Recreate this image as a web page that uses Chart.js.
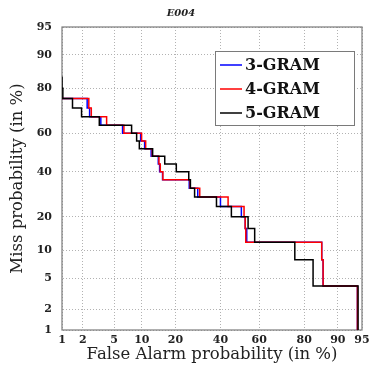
<!DOCTYPE html>
<html>
<head>
<meta charset="utf-8">
<script src="https://cdn.jsdelivr.net/npm/chart.js@4.4.0/dist/chart.umd.min.js"></script>
<style>
  html, body { margin: 0; padding: 0; background: #fff; }
</style>
</head>
<body>
<canvas id="det" width="372" height="367"></canvas>
<script>
// DET plot, both axes on a normal-deviate scale (values in %)
const TITLE = 'E004';
const TICKS_PCT = [1, 2, 5, 10, 20, 40, 60, 80, 90, 95];
const FA_RANGE = [1, 94.5];   // x limits as drawn
const MISS_RANGE = [1, 95];

const SERIES = ['3-GRAM', '4-GRAM', '5-GRAM'];
const LINE_COLORS = ['#0000ff', '#ff0000', '#000000'];

// step vertices: false alarm % where the miss rate drops to the given miss %
const fa3 = [1.0, 2.29, 2.47, 3.45, 6.25, 9.72, 10.65, 12.3, 14.3, 14.7, 15.6, 25.4, 29.1, 40.0, 50.8, 52.8, 53.6, 85.8, 86.2, 93.8];
const miss3 = [76, 72, 68, 64, 60, 56, 52, 48, 44, 40, 36, 32, 28, 24, 20, 16, 12, 8, 4, 0];
const fa4 = [1.0, 2.41, 2.60, 4.07, 6.47, 9.94, 10.9, 12.6, 14.5, 14.9, 15.7, 25.8, 30.0, 43.9, 52.2, 52.8, 53.1, 85.8, 86.2, 93.8];
const miss4 = [76, 72, 68, 64, 60, 56, 52, 48, 44, 40, 36, 32, 28, 24, 20, 16, 12, 8, 4, 0];
const fa5 = [1.0, 1.0, 1.03, 1.43, 1.92, 3.30, 7.84, 8.85, 9.43, 12.7, 16.3, 20.3, 25.2, 25.9, 27.7, 38.0, 45.6, 54.3, 57.7, 76.4, 83.1, 93.9];
const miss5 = [84, 80, 76, 72, 68, 64, 60, 56, 52, 48, 44, 40, 36, 32, 28, 24, 20, 16, 12, 8, 4, 0];

// inverse normal CDF (Acklam)
function probit(p) {
  p = Math.min(Math.max(p, 1e-5), 1 - 1e-5);
  const a = [-39.69683028665376, 220.9460984245205, -275.9285104469687, 138.3577518672690, -30.66479806614716, 2.506628277459239];
  const b = [-54.47609879822406, 161.5858368580409, -155.6989798598866, 66.80131188771972, -13.28068155288572];
  const c = [-0.007784894002430293, -0.3223964580411365, -2.400758277161838, -2.549732539343734, 4.374664141464968, 2.938163982698783];
  const d = [0.007784695709041462, 0.3224671290700398, 2.445134137142996, 3.754408661907416];
  const pl = 0.02425;
  let q, r;
  if (p < pl) {
    q = Math.sqrt(-2 * Math.log(p));
    return (((((c[0]*q+c[1])*q+c[2])*q+c[3])*q+c[4])*q+c[5]) / ((((d[0]*q+d[1])*q+d[2])*q+d[3])*q+1);
  }
  if (p > 1 - pl) {
    q = Math.sqrt(-2 * Math.log(1 - p));
    return -(((((c[0]*q+c[1])*q+c[2])*q+c[3])*q+c[4])*q+c[5]) / ((((d[0]*q+d[1])*q+d[2])*q+d[3])*q+1);
  }
  q = p - 0.5; r = q * q;
  return (((((a[0]*r+a[1])*r+a[2])*r+a[3])*r+a[4])*r+a[5])*q / (((((b[0]*r+b[1])*r+b[2])*r+b[3])*r+b[4])*r+1);
}

const toPoints = (fa, miss) => fa.map((f, i) => ({ x: probit(f / 100), y: probit(miss[i] / 100) }));
const curves = [toPoints(fa3, miss3), toPoints(fa4, miss4), toPoints(fa5, miss5)];

const TICK_FONT = { family: 'DejaVu Serif', size: 11, weight: 'bold' };
const AXIS_FONT = { family: 'DejaVu Serif', size: 16.5 };

const detFrame = {
  id: 'detFrame',
  beforeDatasetsDraw(chart) {
    const { ctx, chartArea: a } = chart;
    ctx.save();
    ctx.strokeStyle = '#7a7a7a';
    ctx.lineWidth = 1.2;
    ctx.strokeRect(a.left, a.top, a.right - a.left, a.bottom - a.top);
    ctx.restore();
  },
  afterDatasetsDraw(chart) {
    const { ctx, chartArea: a } = chart;
    const x0 = a.right - 147, y0 = a.top + 24, w = 139, h = 74;
    ctx.save();
    ctx.fillStyle = '#fff';
    ctx.fillRect(x0, y0, w, h);
    ctx.strokeStyle = '#7a7a7a';
    ctx.lineWidth = 1;
    ctx.strokeRect(x0 + 0.5, y0 + 0.5, w, h);
    ctx.font = 'bold 16px "DejaVu Serif"';
    ctx.textBaseline = 'middle';
    chart.data.datasets.forEach((ds, i) => {
      const y = y0 + 14 + i * 24;
      ctx.strokeStyle = ds.borderColor;
      ctx.lineWidth = 1.5;
      ctx.beginPath();
      ctx.moveTo(x0 + 5, y);
      ctx.lineTo(x0 + 27, y);
      ctx.stroke();
      ctx.fillStyle = '#111';
      ctx.fillText(ds.label, x0 + 30, y + 1);
    });
    ctx.restore();
  }
};

const gridOpts = { display: true, drawOnChartArea: true, color: '#b2b2b2', lineWidth: 1, drawTicks: false };
const borderOpts = { display: true, color: 'rgba(0,0,0,0)', width: 1, dash: [1, 2] };

new Chart(document.getElementById('det'), {
  type: 'line',
  plugins: [detFrame],
  data: {
    datasets: SERIES.map((name, i) => ({
      label: name,
      data: curves[i],
      borderColor: LINE_COLORS[i],
      borderWidth: 1.5,
      stepped: 'before',
      pointRadius: 0,
      fill: false,
      order: SERIES.length - i,
    })),
  },
  options: {
    responsive: false,
    animation: false,
    layout: { padding: { left: 0, right: 10, top: 0, bottom: 0 } },
    plugins: {
      legend: { display: false },
      tooltip: { enabled: false },
      title: {
        display: true,
        text: TITLE,
        color: '#222',
        font: { family: 'DejaVu Serif', size: 10, weight: 'bold', style: 'italic' },
        padding: { top: 7, bottom: 8 },
      },
    },
    scales: {
      x: {
        type: 'linear',
        min: probit(FA_RANGE[0] / 100),
        max: probit(FA_RANGE[1] / 100),
        afterBuildTicks: (s) => { s.ticks = TICKS_PCT.map(v => ({ value: Math.min(probit(v / 100), s.max) })); },
        afterFit: (s) => { s.height = 37; s.paddingLeft = 0; s.paddingRight = 0; },
        ticks: {
          autoSkip: false, maxRotation: 0, padding: 4, color: '#222', font: TICK_FONT,
          callback: (v, i) => String(TICKS_PCT[i]),
        },
        grid: gridOpts,
        border: borderOpts,
        title: { display: true, text: 'False Alarm probability (in %)', color: '#222', font: AXIS_FONT, padding: { top: 0, bottom: 2 } },
      },
      y: {
        type: 'linear',
        min: probit(MISS_RANGE[0] / 100),
        max: probit(MISS_RANGE[1] / 100),
        afterBuildTicks: (s) => { s.ticks = TICKS_PCT.map(v => ({ value: probit(v / 100) })); },
        afterFit: (s) => { s.width = 62; s.paddingTop = 0; s.paddingBottom = 0; },
        ticks: {
          autoSkip: false, padding: 10, color: '#222', font: TICK_FONT,
          callback: (v, i) => String(TICKS_PCT[i]),
        },
        grid: gridOpts,
        border: borderOpts,
        title: { display: true, text: 'Miss probability (in %)', color: '#222', font: AXIS_FONT, padding: { top: 8, bottom: 0 } },
      },
    },
  },
});
</script>
</body>
</html>
